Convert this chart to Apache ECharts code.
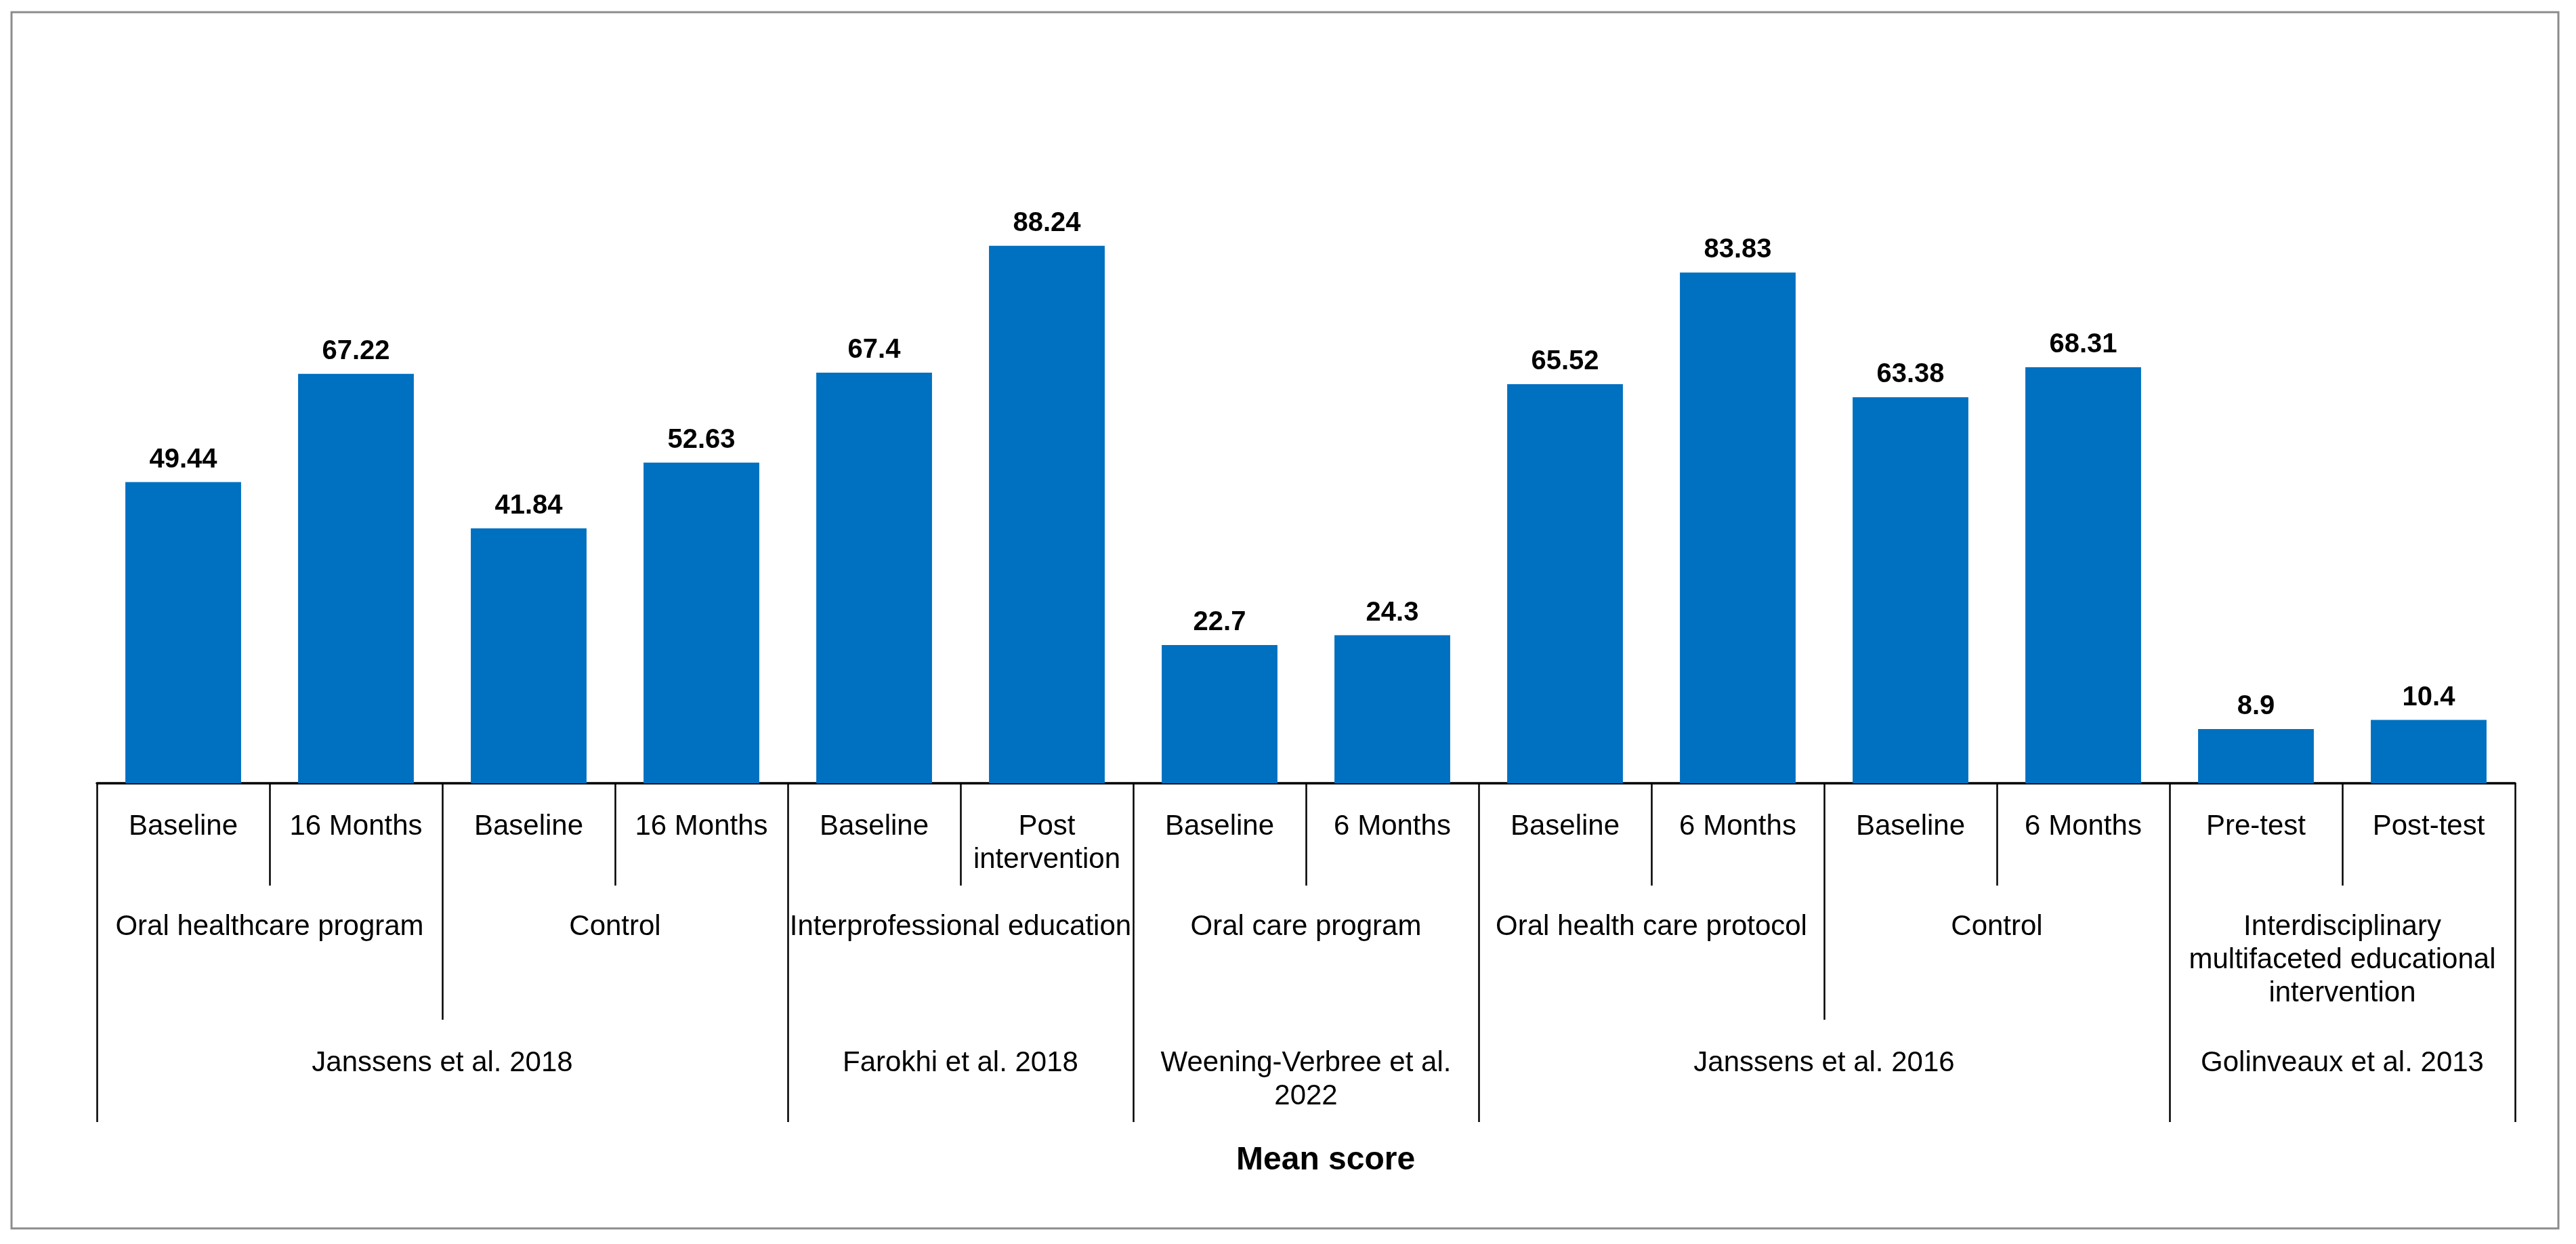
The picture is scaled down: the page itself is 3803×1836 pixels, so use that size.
<!DOCTYPE html>
<html>
<head>
<meta charset="utf-8">
<script src="https://cdn.jsdelivr.net/npm/echarts@6/dist/echarts.min.js"></script>
<style>
html,body{margin:0;padding:0;background:#fff;}
#chart{width:3803px;height:1836px;}
</style>
</head>
<body>
<div id="chart"></div>
<script>
// ---- data ----
const timepoints = ['Baseline','16 Months','Baseline','16 Months','Baseline','Post\nintervention','Baseline','6 Months','Baseline','6 Months','Baseline','6 Months','Pre-test','Post-test'];
const scores = [49.44, 67.22, 41.84, 52.63, 67.4, 88.24, 22.7, 24.3, 65.52, 83.83, 63.38, 68.31, 8.9, 10.4];
const armNames = ['Oral healthcare program','Control','Interprofessional education','Oral care program','Oral health care protocol','Control','Interdisciplinary\nmultifaceted educational\nintervention'];
const armSpans = [2,2,2,2,2,2,2];
const studyNames = ['Janssens et al. 2018','Farokhi et al. 2018','Weening-Verbree et al.\n2022','Janssens et al. 2016','Golinveaux et al. 2013'];
const studySpans = [4,2,2,4,2];
const axisTitle = 'Mean score';

// ---- build boundary-point axes (15 points: 0..14) ----
function buildLevel(names, spans) {
  const n = timepoints.length + 1;
  const labels = new Array(n).fill('');
  const bounds = new Set([0]);
  let start = 0;
  names.forEach((nm, i) => {
    labels[start + spans[i] / 2] = nm;
    start += spans[i];
    bounds.add(start);
  });
  return { labels, bounds };
}
const armLevel = buildLevel(armNames, armSpans);
const studyLevel = buildLevel(studyNames, studySpans);

const FONT = '"Liberation Sans", Arial, sans-serif';
const chart = echarts.init(document.getElementById('chart'), null, { renderer: 'canvas' });

const gridLeft = 143, gridRight = 90, gridTop = 257, gridBottom = 680;

const tickStyle = { color: '#000', width: 2.5 };

chart.setOption({
  backgroundColor: '#fff',
  animation: false,
  grid: { left: gridLeft, right: gridRight, top: gridTop, bottom: gridBottom, containLabel: false },
  title: {
    text: axisTitle,
    left: 1820,
    top: 1684,
    textStyle: { fontFamily: FONT, fontSize: 48, fontWeight: 'bold', color: '#000' }
  },
  xAxis: [
    {
      type: 'category',
      data: timepoints,
      position: 'bottom',
      boundaryGap: true,
      axisLine: { show: true, onZero: false, lineStyle: { color: '#000', width: 3.5 } },
      axisTick: { show: true, length: 151, interval: 0, alignWithLabel: false, lineStyle: tickStyle },
      axisLabel: {
        interval: 0, margin: 40, color: '#000',
        fontFamily: FONT, fontSize: 42, lineHeight: 49, align: 'center'
      },
      splitLine: { show: false }
    },
    {
      type: 'category',
      data: armLevel.labels,
      position: 'bottom',
      boundaryGap: false,
      axisLine: { show: false, onZero: false },
      axisTick: { show: true, length: 349, interval: (i) => armLevel.bounds.has(i), lineStyle: tickStyle },
      axisLabel: {
        interval: (i, v) => v !== '', margin: 188, color: '#000',
        fontFamily: FONT, fontSize: 42, lineHeight: 49, align: 'center',
        showMinLabel: true, showMaxLabel: true
      },
      splitLine: { show: false }
    },
    {
      type: 'category',
      data: studyLevel.labels,
      position: 'bottom',
      boundaryGap: false,
      axisLine: { show: false, onZero: false },
      axisTick: { show: true, length: 500, interval: (i) => studyLevel.bounds.has(i), lineStyle: tickStyle },
      axisLabel: {
        interval: (i, v) => v !== '', margin: 389, color: '#000',
        fontFamily: FONT, fontSize: 42, lineHeight: 49, align: 'center'
      },
      splitLine: { show: false }
    }
  ],
  yAxis: { type: 'value', min: 0, max: 100, show: false },
  graphic: [{
    type: 'rect',
    shape: { x: 17, y: 18, width: 3760, height: 1795 },
    style: { fill: 'none', stroke: '#8c8c8c', lineWidth: 3 },
    silent: true, z: -1
  }],
  series: [{
    type: 'bar',
    data: scores,
    xAxisIndex: 0,
    barCategoryGap: '33%',
    itemStyle: { color: '#0070C0' },
    label: {
      show: true, position: 'top', distance: 13, color: '#000',
      fontFamily: FONT, fontSize: 40, fontWeight: 'bold'
    }
  }]
});
</script>
</body>
</html>
